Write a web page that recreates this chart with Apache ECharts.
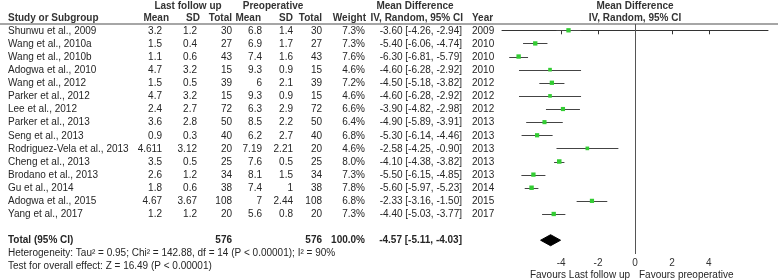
<!DOCTYPE html>
<html><head><meta charset="utf-8">
<script src="https://cdn.jsdelivr.net/npm/echarts@6/dist/echarts.min.js"></script>
<style>html,body{margin:0;padding:0;background:#fff}#c{width:778px;height:280px}</style>
</head><body><div id="c"></div>
<script>
const studies = ['Shunwu et al., 2009','Wang et al., 2010a','Wang et al., 2010b','Adogwa et al., 2010','Wang et al., 2012','Parker et al., 2012','Lee et al., 2012','Parker et al., 2013','Seng et al., 2013','Rodriguez-Vela et al., 2013','Cheng et al., 2013','Brodano et al., 2013','Gu et al., 2014','Adogwa et al., 2015','Yang et al., 2017'];
const lfMean = [3.2,1.5,1.1,4.7,1.5,4.7,2.4,3.6,0.9,4.611,3.5,2.6,1.8,4.67,1.2];
const lfSD = [1.2,0.4,0.6,3.2,0.5,3.2,2.7,2.8,0.3,3.12,0.5,1.2,0.6,3.67,1.2];
const lfTotal = [30,27,43,15,39,15,72,50,40,20,25,34,38,108,20];
const preMean = [6.8,6.9,7.4,9.3,6,9.3,6.3,8.5,6.2,7.19,7.6,8.1,7.4,7,5.6];
const preSD = [1.4,1.7,1.6,0.9,2.1,0.9,2.9,2.2,2.7,2.21,0.5,1.5,1,2.44,0.8];
const preTotal = [30,27,43,15,39,15,72,50,40,20,25,34,38,108,20];
const weight = [7.3,7.3,7.6,4.6,7.2,4.6,6.6,6.4,6.8,4.6,8.0,7.3,7.8,6.8,7.3];
const md = [-3.60,-5.40,-6.30,-4.60,-4.50,-4.60,-3.90,-4.90,-5.30,-2.58,-4.10,-5.50,-5.60,-2.33,-4.40];
const ciLow = [-4.26,-6.06,-6.81,-6.28,-5.18,-6.28,-4.82,-5.89,-6.14,-4.25,-4.38,-6.15,-5.97,-3.16,-5.03];
const ciHigh = [-2.94,-4.74,-5.79,-2.92,-3.82,-2.92,-2.98,-3.91,-4.46,-0.90,-3.82,-4.85,-5.23,-1.50,-3.77];
const years = [2009,2010,2010,2010,2012,2012,2012,2013,2013,2013,2013,2013,2014,2015,2017];
const totalLf = 576;
const totalPre = 576;
const totalWeight = 100.0;
const totalMd = -4.57;
const totalLow = -5.11;
const totalHigh = -4.03;
const heterogeneityText = 'Heterogeneity: Tau\u00b2 = 0.95; Chi\u00b2 = 142.88, df = 14 (P < 0.00001); I\u00b2 = 90%';
const overallText = 'Test for overall effect: Z = 16.49 (P < 0.00001)';
const xTicks = [-4,-2,0,2,4];

const FONT = '"Liberation Sans", Arial, sans-serif';
const TXT = '#262626';
const HDR = '#333';
const TOTAL_ROW = 16;

function cell(text, x, y, align, bold) {
  return {type:'text', style:{text:String(text), x:x, y:y, align:align, verticalAlign:'middle',
    font:(bold?'bold ':'')+'10px '+FONT, fill:TXT}};
}
function hdr(text, x, y, align) {
  return {type:'text', style:{text:text, x:x, y:y, align:align, verticalAlign:'middle', font:'bold 10px '+FONT, fill:HDR}};
}
function fmtCI(m,l,h){ return m.toFixed(2)+' ['+l.toFixed(2)+', '+h.toFixed(2)+']'; }

const chart = echarts.init(document.getElementById('c'));
const option = {
  animation:false,
  backgroundColor:'#fff',
  grid:{left:502, right:10, top:24, height:230, containLabel:false},
  xAxis:{type:'value', min:-7.2, max:7.2, splitLine:{show:false},
    axisLine:{show:true, lineStyle:{color:'#333', width:1}},
    axisTick:{show:true, customValues:xTicks, length:4, lineStyle:{color:'#333'}},
    axisLabel:{customValues:xTicks, margin:4, fontSize:10, color:'#333', fontFamily:FONT}},
  yAxis:{type:'value', min:-0.48, max:17.05, inverse:true, show:false},
  graphic:[
    {type:'line', shape:{x1:0,y1:24,x2:778,y2:24}, style:{stroke:'#888', lineWidth:1.5}, z:1},
    hdr('Last follow up', 188, 6, 'center'),
    hdr('Preoperative', 273, 6, 'center'),
    hdr('Mean Difference', 415, 6, 'center'),
    hdr('Mean Difference', 635, 6, 'center'),
    hdr('Study or Subgroup', 8, 18, 'left'),
    hdr('Mean', 169, 18, 'right'),
    hdr('SD', 200, 18, 'right'),
    hdr('Total', 232, 18, 'right'),
    hdr('Mean', 261, 18, 'right'),
    hdr('SD', 293, 18, 'right'),
    hdr('Total', 322, 18, 'right'),
    hdr('Weight', 366, 18, 'right'),
    hdr('IV, Random, 95% CI', 463, 18, 'right'),
    hdr('Year', 472, 18, 'left'),
    hdr('IV, Random, 95% CI', 635, 18, 'center'),
    {type:'text', style:{text:'Favours Last follow up', x:630, y:275, align:'right', verticalAlign:'middle', font:'10px '+FONT, fill:TXT}},
    {type:'text', style:{text:'Favours preoperative', x:639, y:275, align:'left', verticalAlign:'middle', font:'10px '+FONT, fill:TXT}}
  ],
  series:[
    {
      type:'custom', name:'table', clip:false, silent:true,
      data:studies.map((s,i)=>[0,i]),
      encode:{x:0, y:1},
      renderItem:function(params, api){
        const i = api.value(1);
        const y = api.coord([0,i])[1] + 0.5;
        return {type:'group', children:[
          cell(studies[i], 8, y, 'left'),
          cell(lfMean[i], 162, y, 'right'),
          cell(lfSD[i], 197, y, 'right'),
          cell(lfTotal[i], 232, y, 'right'),
          cell(preMean[i], 262, y, 'right'),
          cell(preSD[i], 293, y, 'right'),
          cell(preTotal[i], 322, y, 'right'),
          cell(weight[i].toFixed(1)+'%', 365, y, 'right'),
          cell(fmtCI(md[i],ciLow[i],ciHigh[i]), 462, y, 'right'),
          cell(years[i], 472, y, 'left')
        ]};
      }
    },
    {
      type:'custom', name:'totalrow', clip:false, silent:true,
      data:[[0,TOTAL_ROW]],
      encode:{x:0, y:1},
      renderItem:function(params, api){
        const y = api.coord([0,api.value(1)])[1];
        const y2 = api.coord([0,api.value(1)+1.02])[1];
        const y3 = api.coord([0,api.value(1)+2.0])[1];
        return {type:'group', children:[
          cell('Total (95% CI)', 8, y, 'left', true),
          cell(totalLf, 232, y, 'right', true),
          cell(totalPre, 322, y, 'right', true),
          cell(totalWeight.toFixed(1)+'%', 365, y, 'right', true),
          cell(fmtCI(totalMd,totalLow,totalHigh), 462, y, 'right', true),
          cell(heterogeneityText, 8, y2, 'left'),
          cell(overallText, 8, y3, 'left')
        ]};
      }
    },
    {
      type:'custom', name:'ci', clip:false, silent:true,
      data:ciLow.map((l,i)=>[l, ciHigh[i], i]),
      encode:{x:[0,1], y:2},
      renderItem:function(params, api){
        const p1 = api.coord([api.value(0), api.value(2)]);
        const p2 = api.coord([api.value(1), api.value(2)]);
        return {type:'line', shape:{x1:p1[0], y1:Math.round(p1[1])+0.5, x2:p2[0], y2:Math.round(p2[1])+0.5},
          style:{stroke:'#444', lineWidth:1}};
      }
    },
    {
      type:'scatter', name:'md', symbol:'rect', silent:true, z:5,
      data:md.map((m,i)=>[m, i, weight[i]]),
      symbolSize:function(v){ return 2.5 + v[2]*0.25; },
      itemStyle:{color:'#33cc33', opacity:1},
      markLine:{silent:true, symbol:'none', label:{show:false},
        lineStyle:{color:'#555', type:'solid', width:1},
        data:[{xAxis:0}]}
    },
    {
      type:'custom', name:'diamond', clip:false, silent:true,
      data:[[totalLow, totalMd, totalHigh, TOTAL_ROW]],
      encode:{x:[0,1,2], y:3},
      renderItem:function(params, api){
        const r = api.value(3);
        const a = api.coord([api.value(0), r]);
        const b = api.coord([api.value(1), r - 0.42]);
        const c = api.coord([api.value(2), r]);
        const d = api.coord([api.value(1), r + 0.42]);
        return {type:'polygon', shape:{points:[a,b,c,d]}, style:{fill:'#000', stroke:'#000'}};
      }
    }
  ]
};
chart.setOption(option);
</script>
</body></html>
